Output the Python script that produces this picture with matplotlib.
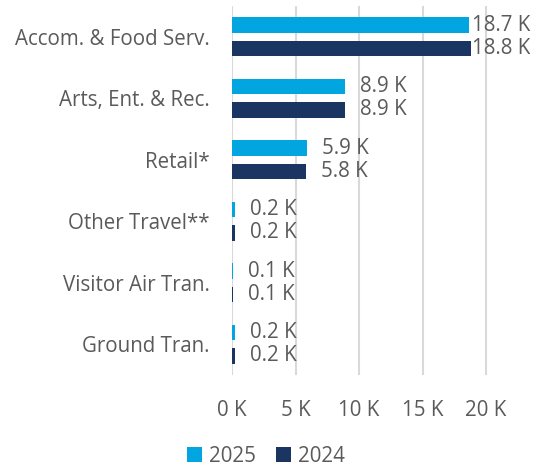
import matplotlib
matplotlib.use("Agg")
import matplotlib.pyplot as plt
import numpy as np

categories = ["Accom. & Food Serv.", "Arts, Ent. & Rec.", "Retail*", "Other Travel**",
              "Visitor Air Tran.", "Ground Tran."]
values_2025 = [18700, 8900, 5900, 200, 100, 200]
values_2024 = [18800, 8900, 5800, 200, 100, 200]
labels_2025 = ["18.7 K", "8.9 K", "5.9 K", "0.2 K", "0.1 K", "0.2 K"]
labels_2024 = ["18.8 K", "8.9 K", "5.8 K", "0.2 K", "0.1 K", "0.2 K"]
xticks = [0, 5000, 10000, 15000, 20000]
xticklabels = ["0 K", "5 K", "10 K", "15 K", "20 K"]

plt.rcParams['font.family'] = ['Open Sans', 'DejaVu Sans']
TEXT = "#5A5A5A"
C25 = "#01A6E0"
C24 = "#1A3562"
FS = 14.8

W, H = 533, 469
fig = plt.figure(figsize=(W/100, H/100), dpi=100)
left_px, right_px, top_px, bot_px = 232, 500, 6, 375
ax = fig.add_axes([left_px/W, 1-bot_px/H, (right_px-left_px)/W, (bot_px-top_px)/H])

px_per_unit = (486-232)/20000.0
xmax = (right_px-left_px)/px_per_unit
ax.set_xlim(0, xmax)
n = len(categories)
ax.set_ylim(n-0.5, -0.5)

y = np.arange(n)
h = 0.255
off = 0.19
ax.barh(y-off, values_2025, height=h, color=C25, label="2025", zorder=3)
ax.barh(y+off, values_2024, height=h, color=C24, label="2024", zorder=3)

lab_off = 15/px_per_unit
lab_max = (472-232)/px_per_unit
for yy, v, t in zip(y-off, values_2025, labels_2025):
    ax.text(min(v+lab_off, lab_max), yy, t, ha='left', va='center', fontsize=FS,
            color=TEXT, clip_on=False, zorder=4)
for yy, v, t in zip(y+off, values_2024, labels_2024):
    ax.text(min(v+lab_off, lab_max), yy, t, ha='left', va='center', fontsize=FS,
            color=TEXT, clip_on=False, zorder=4)

ax.set_yticks(y)
ax.set_yticklabels(categories, fontsize=FS, color=TEXT)
ax.set_xticks(xticks)
ax.set_xticklabels(xticklabels, fontsize=FS, color=TEXT)
ax.tick_params(axis='both', length=0)
ax.tick_params(axis='y', pad=16)
ax.tick_params(axis='x', pad=18)
for s in ax.spines.values():
    s.set_visible(False)
ax.grid(axis='x', color="#D9D9D9", linewidth=1.5, zorder=0)
ax.set_axisbelow(True)

leg = fig.legend(loc='center', bbox_to_anchor=(266/W, 1-456/H), ncol=2, frameon=False,
                 fontsize=FS, labelcolor=TEXT, handlelength=0.7, handleheight=0.7,
                 handletextpad=0.35, columnspacing=1.0, borderaxespad=0, borderpad=0)

fig.savefig("out.png", dpi=100)
